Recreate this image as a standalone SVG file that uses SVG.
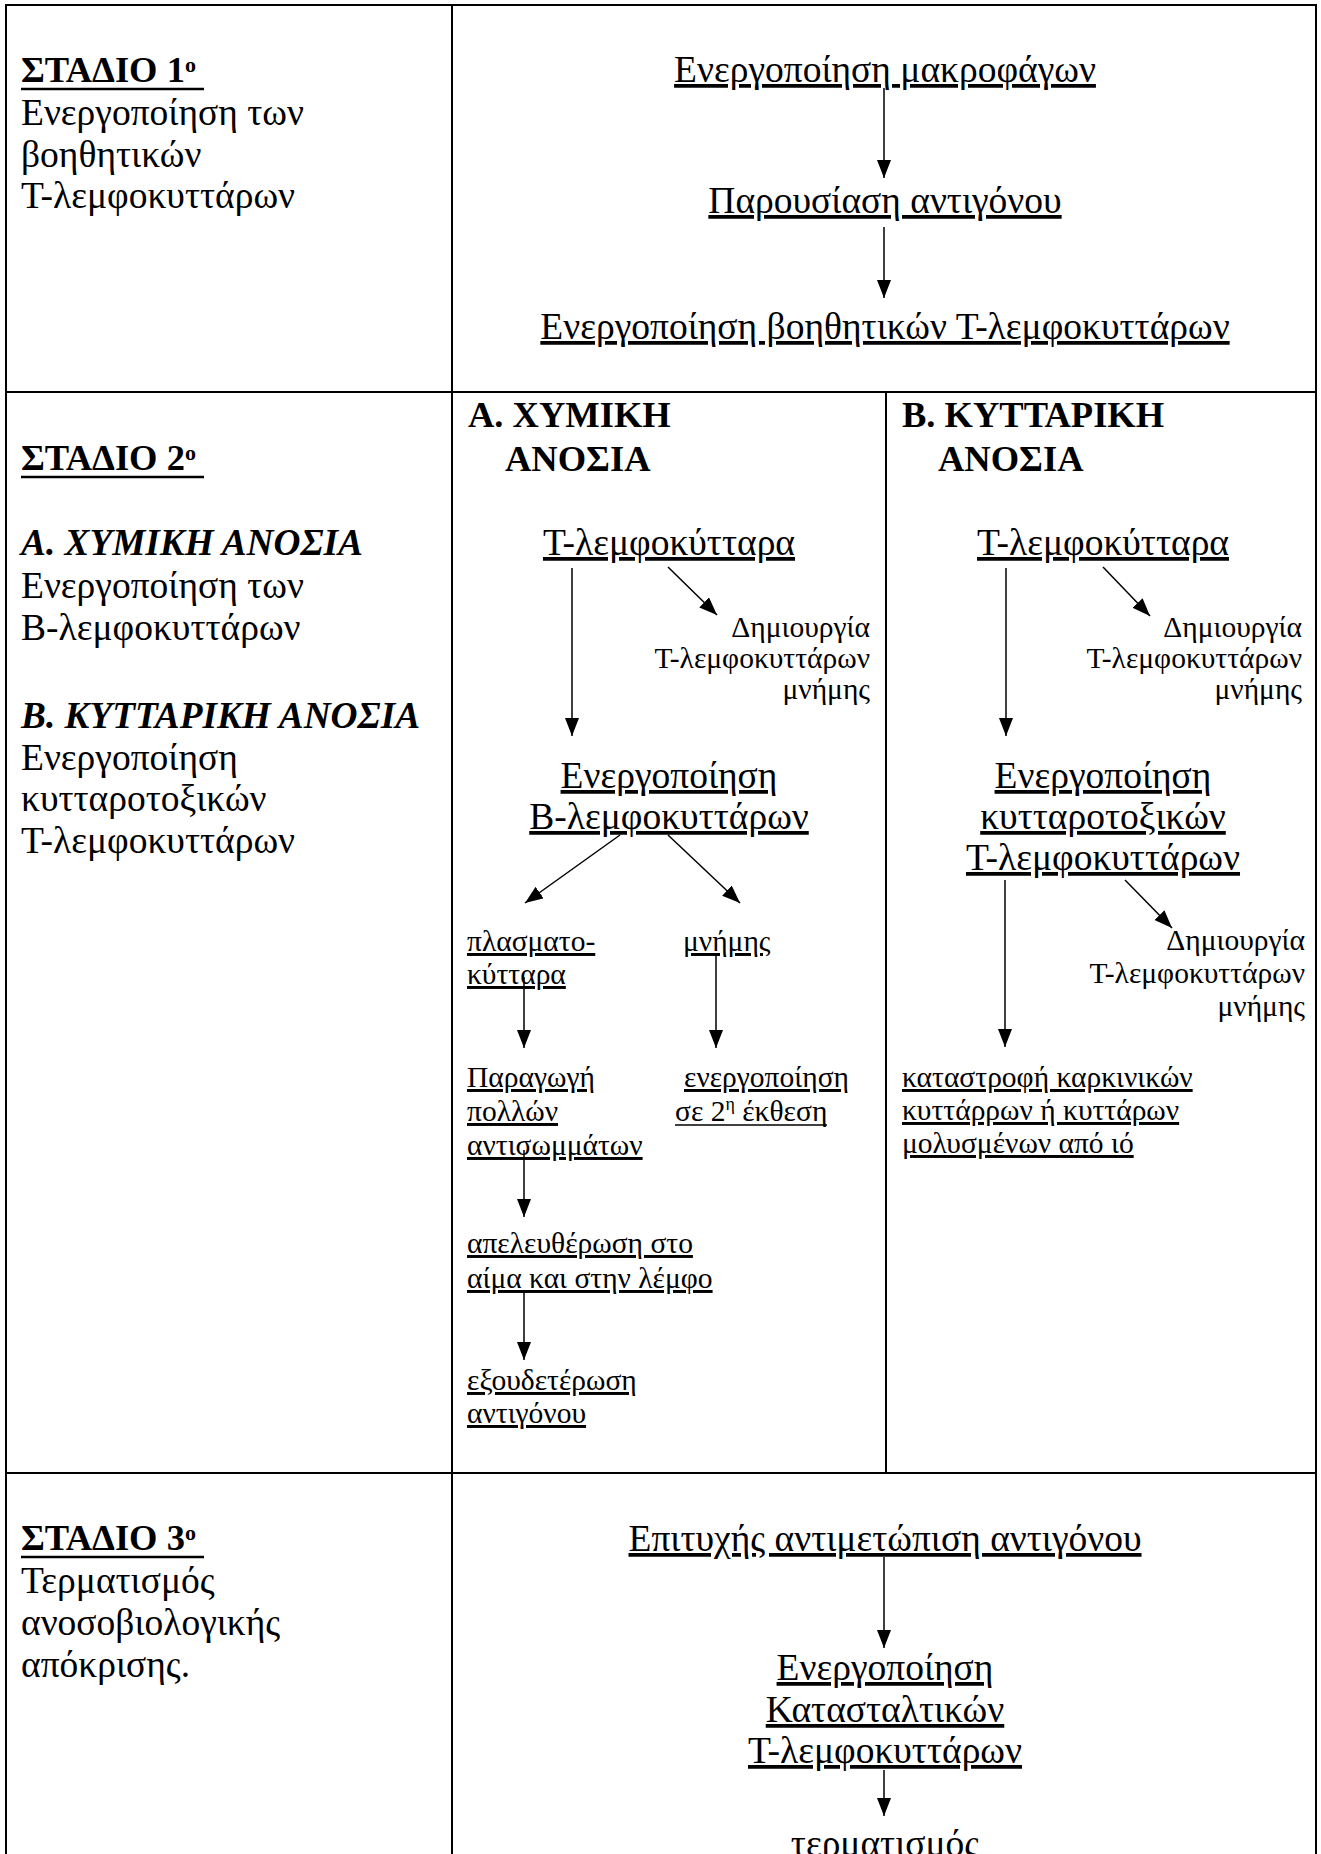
<svg xmlns="http://www.w3.org/2000/svg" width="1321" height="1854" viewBox="0 0 1321 1854">
<defs>
<marker id="ah" markerUnits="userSpaceOnUse" markerWidth="18" markerHeight="14" refX="18" refY="7" orient="auto"><path d="M0,0 L18,7 L0,14 Z" fill="#000"/></marker>
<style>
text{font-family:"Liberation Serif","Times New Roman",serif;fill:#000}
.b{font-size:37.5px}
.s{font-size:29.5px}
.h{font-weight:bold;font-size:36.5px}
.bi{font-weight:bold;font-style:italic;font-size:37.3px}
.u{text-decoration:underline}
.c{text-anchor:middle}
.r{text-anchor:end}
.grid line{stroke:#000;stroke-width:2}
.conn line{stroke:#000;stroke-width:1.5;marker-end:url(#ah)}
.ul{stroke:#000;stroke-width:2.5}
.uls{stroke:#000;stroke-width:1.6}
</style>
</defs>
<rect width="1321" height="1854" fill="#fff"/>
<g id="grid" class="grid">
<line x1="5" y1="5" x2="1317" y2="5"/>
<line x1="6" y1="4" x2="6" y2="1854"/>
<line x1="1316" y1="4" x2="1316" y2="1854"/>
<line x1="452" y1="5" x2="452" y2="1854"/>
<line x1="6" y1="392" x2="1316" y2="392"/>
<line x1="6" y1="1473" x2="1316" y2="1473"/>
<line x1="886" y1="392" x2="886" y2="1473"/>
</g>

<g id="stage1-label">
<text class="h" x="21" y="82">ΣΤΑΔΙΟ 1<tspan font-size="22" dy="-10">ο</tspan></text>
<line class="ul" x1="21" y1="89" x2="204" y2="89"/>
<text class="b" x="21" y="125">Ενεργοποίηση των</text>
<text class="b" x="21" y="167">βοηθητικών</text>
<text class="b" x="21" y="208">Τ-λεμφοκυττάρων</text>
</g>
<g id="n-macro"><text class="b u c" x="885" y="82">Ενεργοποίηση μακροφάγων</text></g>
<g id="n-present"><text class="b u c" x="885" y="213">Παρουσίαση αντιγόνου</text></g>
<g id="n-helper"><text class="b u c" x="885" y="339">Ενεργοποίηση βοηθητικών Τ-λεμφοκυττάρων</text></g>

<g id="stage2-label">
<text class="h" x="21" y="470">ΣΤΑΔΙΟ 2<tspan font-size="22" dy="-10">ο</tspan></text>
<line class="ul" x1="21" y1="477" x2="204" y2="477"/>
<text class="bi" x="21" y="555">Α. ΧΥΜΙΚΗ ΑΝΟΣΙΑ</text>
<text class="b" x="21" y="598">Ενεργοποίηση των</text>
<text class="b" x="21" y="640">Β-λεμφοκυττάρων</text>
<text class="bi" x="21" y="728">Β. ΚΥΤΤΑΡΙΚΗ ΑΝΟΣΙΑ</text>
<text class="b" x="21" y="770">Ενεργοποίηση</text>
<text class="b" x="21" y="811">κυτταροτοξικών</text>
<text class="b" x="21" y="853">Τ-λεμφοκυττάρων</text>
</g>

<g id="colA-title">
<text class="h" x="468" y="427">Α. ΧΥΜΙΚΗ</text>
<text class="h" x="505" y="471">ΑΝΟΣΙΑ</text>
</g>
<g id="a-tcells"><text class="b u c" x="669" y="555">Τ-λεμφοκύτταρα</text></g>
<g id="a-memT">
<text class="s r" x="870" y="637">Δημιουργία</text>
<text class="s r" x="870" y="668">Τ-λεμφοκυττάρων</text>
<text class="s r" x="870" y="699">μνήμης</text>
</g>
<g id="a-bact">
<text class="b u c" x="669" y="788">Ενεργοποίηση</text>
<text class="b u c" x="669" y="829">Β-λεμφοκυττάρων</text>
</g>
<g id="a-plasma">
<text class="s u" x="467" y="951">πλασματο-</text>
<text class="s u" x="467" y="984">κύτταρα</text>
</g>
<g id="a-memB"><text class="s u" x="683" y="951">μνήμης</text></g>
<g id="a-antibody">
<text class="s u" x="467" y="1087">Παραγωγή</text>
<text class="s u" x="467" y="1121">πολλών</text>
<text class="s u" x="467" y="1155">αντισωμμάτων</text>
</g>
<g id="a-second">
<text class="s u" x="684" y="1087">ενεργοποίηση</text>
<text class="s" x="675" y="1121">σε 2<tspan font-size="18" dy="-11">η</tspan><tspan dy="11"> έκθεση</tspan></text>
<line class="uls" x1="675" y1="1125" x2="827" y2="1125"/>
</g>
<g id="a-release">
<text class="s u" x="467" y="1253">απελευθέρωση στο</text>
<text class="s u" x="467" y="1288">αίμα και στην λέμφο</text>
</g>
<g id="a-neutral">
<text class="s u" x="467" y="1390">εξουδετέρωση</text>
<text class="s u" x="467" y="1423">αντιγόνου</text>
</g>

<g id="colB-title">
<text class="h" x="902" y="427">Β. ΚΥΤΤΑΡΙΚΗ</text>
<text class="h" x="938" y="471">ΑΝΟΣΙΑ</text>
</g>
<g id="b-tcells"><text class="b u c" x="1103" y="555">Τ-λεμφοκύτταρα</text></g>
<g id="b-memT1">
<text class="s r" x="1302" y="637">Δημιουργία</text>
<text class="s r" x="1302" y="668">Τ-λεμφοκυττάρων</text>
<text class="s r" x="1302" y="699">μνήμης</text>
</g>
<g id="b-cytact">
<text class="b u c" x="1103" y="788">Ενεργοποίηση</text>
<text class="b u c" x="1103" y="829">κυτταροτοξικών</text>
<text class="b u c" x="1103" y="870">Τ-λεμφοκυττάρων</text>
</g>
<g id="b-memT2">
<text class="s r" x="1305" y="950">Δημιουργία</text>
<text class="s r" x="1305" y="983">Τ-λεμφοκυττάρων</text>
<text class="s r" x="1305" y="1016">μνήμης</text>
</g>
<g id="b-destroy">
<text class="s u" x="902" y="1087">καταστροφή καρκινικών</text>
<text class="s u" x="902" y="1120">κυττάρρων ή κυττάρων</text>
<text class="s u" x="902" y="1153">μολυσμένων από ιό</text>
</g>

<g id="stage3-label">
<text class="h" x="21" y="1550">ΣΤΑΔΙΟ 3<tspan font-size="22" dy="-10">ο</tspan></text>
<line class="ul" x1="21" y1="1557" x2="204" y2="1557"/>
<text class="b" x="21" y="1593">Τερματισμός</text>
<text class="b" x="21" y="1635">ανοσοβιολογικής</text>
<text class="b" x="21" y="1677">απόκρισης.</text>
</g>
<g id="n-success"><text class="b u c" x="885" y="1551">Επιτυχής αντιμετώπιση αντιγόνου</text></g>
<g id="n-suppress">
<text class="b u c" x="885" y="1680">Ενεργοποίηση</text>
<text class="b u c" x="885" y="1722">Κατασταλτικών</text>
<text class="b u c" x="885" y="1763">Τ-λεμφοκυττάρων</text>
</g>
<g id="n-end"><text class="b c" x="885" y="1856">τερματισμός</text></g>

<g id="connectors" class="conn">
<line x1="884" y1="88" x2="884" y2="178"/>
<line x1="884" y1="227" x2="884" y2="298"/>
<line x1="572" y1="568" x2="572" y2="736"/>
<line x1="668" y1="567" x2="717" y2="615"/>
<line x1="620" y1="835" x2="525" y2="903"/>
<line x1="668" y1="835" x2="740" y2="903"/>
<line x1="524" y1="977" x2="524" y2="1048"/>
<line x1="716" y1="955" x2="716" y2="1048"/>
<line x1="524" y1="1150" x2="524" y2="1217"/>
<line x1="524" y1="1290" x2="524" y2="1360"/>
<line x1="1006" y1="568" x2="1006" y2="736"/>
<line x1="1103" y1="567" x2="1150" y2="616"/>
<line x1="1005" y1="880" x2="1005" y2="1047"/>
<line x1="1125" y1="880" x2="1172" y2="928"/>
<line x1="884" y1="1557" x2="884" y2="1648"/>
<line x1="884" y1="1770" x2="884" y2="1816"/>
</g>
</svg>
